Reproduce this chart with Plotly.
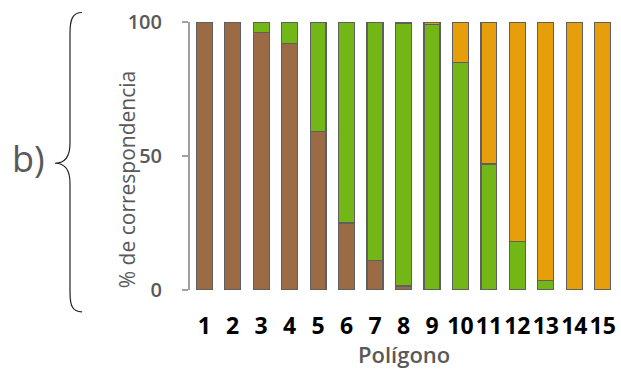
import plotly.graph_objects as go

# Polygon ids and percentage of correspondence per class
poligonos = [str(i) for i in range(1, 16)]
marron = [100, 100, 96, 92, 59, 25, 11, 1.5, 0, 0, 0, 0, 0, 0, 0]
verde = [0, 0, 4, 8, 41, 75, 89, 98, 99, 85, 47, 18, 3.5, 0, 0]
naranja = [0, 0, 0, 0, 0, 0, 0, 0.5, 1, 15, 53, 82, 96.5, 100, 100]
y_ticks = [0, 50, 100]

W, H = 621, 370
L, R, T, B = 190, 4, 21.5, 80
pw, ph = W - L - R, H - T - B
GREY = "#595959"


def px(x):
    return (x - L) / pw


def py(y):
    return (H - B - y) / ph


fig = go.Figure()
series = [
    (marron, "#9a6b45"),
    (verde, "#72b716"),
    (naranja, "#e69f0a"),
]
for vals, col in series:
    fig.add_trace(go.Bar(
        x=poligonos, y=vals, marker_color=col,
        marker_line_color="#5f5f5f", marker_line_width=1.2,
        showlegend=False,
    ))

# Curly brace beside the panel label
pts = [(82, 12), (72, 12), (70, 20), (70, 33), (70, 143), (70, 158), (63, 163), (55, 163),
       (63, 163), (70, 168), (70, 183), (70, 292), (70, 305), (72, 312), (82, 312)]
p = [(px(a), py(b)) for a, b in pts]
path = (f"M {p[0][0]},{p[0][1]} C {p[1][0]},{p[1][1]} {p[2][0]},{p[2][1]} {p[3][0]},{p[3][1]} "
        f"L {p[4][0]},{p[4][1]} C {p[5][0]},{p[5][1]} {p[6][0]},{p[6][1]} {p[7][0]},{p[7][1]} "
        f"C {p[8][0]},{p[8][1]} {p[9][0]},{p[9][1]} {p[10][0]},{p[10][1]} "
        f"L {p[11][0]},{p[11][1]} C {p[12][0]},{p[12][1]} {p[13][0]},{p[13][1]} {p[14][0]},{p[14][1]}")
fig.add_shape(type="path", path=path, xref="paper", yref="paper",
              line=dict(color="#222222", width=1.2))

fig.add_annotation(text="b)", xref="paper", yref="paper", x=px(28), y=py(158),
                   showarrow=False, font=dict(size=36, color=GREY, family="Open Sans"),
                   xanchor="center", yanchor="middle")

# Axis titles
fig.add_annotation(text="% de correspondencia", xref="paper", yref="paper",
                   x=px(127), y=py(180), textangle=-90, showarrow=False,
                   font=dict(size=21, color=GREY, family="Open Sans"),
                   xanchor="center", yanchor="middle")
fig.add_annotation(text="Polígono", xref="paper", yref="paper",
                   x=px(404), y=py(354), showarrow=False,
                   font=dict(size=22, color=GREY, family="Open Sans", weight=600),
                   xanchor="center", yanchor="middle")

fig.update_layout(
    width=W, height=H,
    margin=dict(l=L, r=R, t=T, b=B),
    barmode="stack", bargap=0.44,
    plot_bgcolor="white", paper_bgcolor="white",
    font=dict(family="Open Sans", color=GREY),
    xaxis=dict(
        showline=False, ticks="", showgrid=False,
        tickmode="array", tickvals=poligonos, ticktext=poligonos,
        tickfont=dict(size=23, color="black", family="Open Sans", weight="bold"),
        ticklabelstandoff=20,
    ),
    yaxis=dict(
        range=[0, 100], tickvals=y_ticks, showgrid=False, zeroline=False,
        showline=True, linecolor="#a0a0a0", linewidth=2,
        ticks="outside", ticklen=6, tickcolor="#a0a0a0", tickwidth=2,
        tickfont=dict(size=20, color=GREY, family="Open Sans", weight=600),
        ticklabelstandoff=16,
    ),
)
fig.write_html("out.html")
